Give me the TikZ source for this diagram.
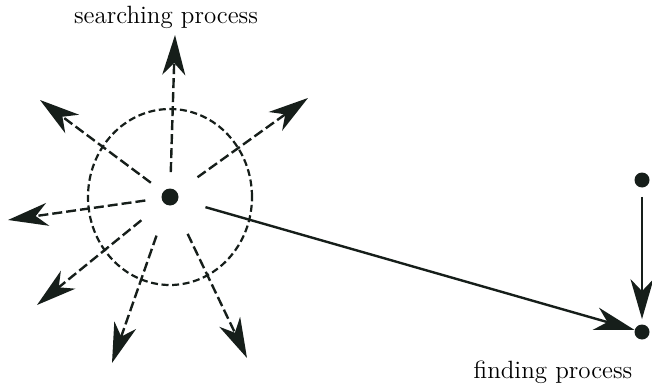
\documentclass[tikz,border=0pt]{standalone}
\usepackage{tikz}
\usetikzlibrary{arrows.meta, positioning, calc}
\definecolor{diagInk}{RGB}{22,30,26}
\tikzset{
  % the black dots (searcher and the two finders)
  spot/.style={circle, fill=diagInk, draw=none, inner sep=0pt, minimum size=8.5pt},
  % captions
  tag/.style={font=\fontsize{12.5}{14}\selectfont, text=black, inner sep=0pt},
  % arrows
  headtip/.style={-{Stealth[length=20pt, width=11.5pt, inset=6pt]}},
  searchflow/.style={headtip, draw=diagInk, line width=1.2pt, dash pattern=on 5pt off 2pt},
  flow/.style={headtip, draw=diagInk, line width=1.2pt},
  % the dashed search range
  searchring/.style={draw=diagInk, line width=1.1pt, dash pattern=on 3.5pt off 1.8pt},
}
\begin{document}
\begin{tikzpicture}[x=0.5pt, y=-0.5pt]
\useasboundingbox (0,0) rectangle (652,390);

% ===========================================================================
% LEFT: searching process
% ===========================================================================
\node[spot] (src) at (170,197) {};
\draw[searchring] (src.center) ellipse [x radius=41pt, y radius=44pt];
\node[tag] (lbl_search) at (166,17) {searching process};

\coordinate (t1) at (175,35);
\coordinate (t2) at (308,98);
\coordinate (t3) at (40,100);
\coordinate (t4) at (8,220);
\coordinate (t5) at (37,305);
\coordinate (t6) at (112,363);
\coordinate (t7) at (247,358);

\foreach \i/\s in {1/8, 2/12.5, 3/7.5, 4/8, 5/14, 6/16, 7/16}
  \draw[searchflow, shorten <=\s pt] (src) -- (t\i);

% ===========================================================================
% RIGHT: finding process
% ===========================================================================
\node[spot, minimum size=7.5pt] (find_top) at (642,180) {};
\node[spot, minimum size=7.5pt] (find_bot) at (642,332) {};
\node[tag] (lbl_find) at (553,372) {finding process};

\draw[flow, shorten <=4.5pt, shorten >=2.5pt] (find_top) -- (find_bot);
\draw[flow, shorten <=14pt] (src) -- (find_bot);

\end{tikzpicture}
\end{document}
